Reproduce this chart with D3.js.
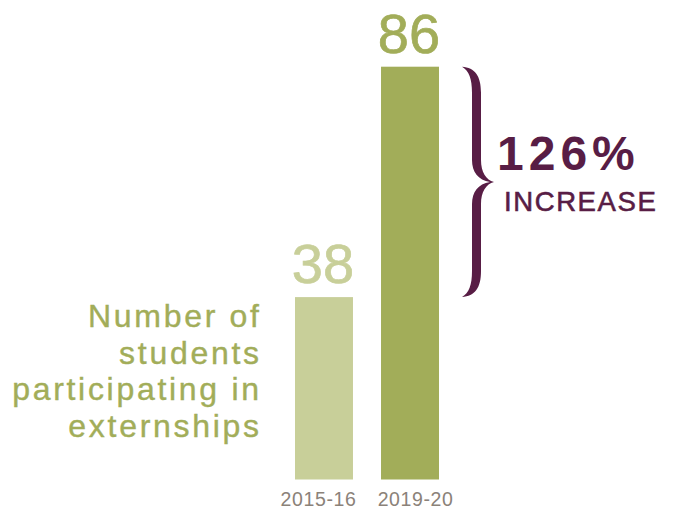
<!DOCTYPE html>
<html>
<head>
<meta charset="utf-8">
<script src="https://cdn.jsdelivr.net/npm/d3@7"></script>
<style>
  body { margin: 0; background: #fff; }
  svg { display: block; font-family: "Liberation Sans", Arial, sans-serif; }
</style>
</head>
<body>
<div id="chart"></div>
<script>
// data
const years = ["2015-16", "2019-20"];
const students = [38, 86];
const barColours = ["#c8cf99", "#a2ad59"];
const caption = ["Number of", "students", "participating in", "externships"];

const width = 678, height = 513;
const baseline = 479.5;
const pxPerUnit = 4.8;
const purple = "#581d45";

const svg = d3.select("#chart").append("svg")
    .attr("width", width)
    .attr("height", height);

const x = d3.scaleBand()
    .domain(years)
    .range([295, 439])
    .paddingInner(0.326)
    .paddingOuter(0);

const y = d3.scaleLinear()
    .domain([0, 100])
    .range([baseline, baseline - 100 * pxPerUnit]);

const bars = years.map((yr, i) => ({ year: yr, value: students[i], colour: barColours[i] }));

// Bars
svg.selectAll(".bar")
    .data(bars)
    .join("rect")
    .attr("class", "bar")
    .attr("x", d => x(d.year))
    .attr("y", d => y(d.value))
    .attr("width", x.bandwidth())
    .attr("height", d => y(0) - y(d.value))
    .attr("fill", d => d.colour);

// Value labels
svg.selectAll(".value")
    .data(bars)
    .join("text")
    .attr("class", "value")
    .attr("x", d => x(d.year) + x.bandwidth() / 2 - 1)
    .attr("y", d => y(d.value) - 14)
    .attr("text-anchor", "middle")
    .attr("font-size", "56px")
    .attr("fill", d => d.colour)
    .attr("stroke", d => d.colour)
    .attr("stroke-width", 0.7)
    .text(d => d.value);

// Year axis (no line, no ticks), labels pushed slightly apart
const axis = svg.append("g")
    .attr("transform", `translate(0, ${baseline})`)
    .call(d3.axisBottom(x).tickSize(0).tickPadding(13));
axis.select(".domain").remove();
axis.selectAll(".tick text")
    .attr("x", (d, i) => (i - 0.5) * 11)
    .attr("font-family", "'Liberation Sans', Arial, sans-serif")
    .attr("font-size", "19.5px")
    .attr("letter-spacing", "0.6px")
    .attr("fill", "#8b8279");

// Caption on the left
const capSpacing = 2.7;
svg.append("text")
    .attr("text-anchor", "end")
    .attr("font-size", "32px")
    .attr("letter-spacing", capSpacing + "px")
    .attr("fill", "#a2ad59")
    .attr("stroke", "#a2ad59")
    .attr("stroke-width", 0.4)
    .selectAll("tspan")
    .data(caption)
    .join("tspan")
    .attr("x", 259 + capSpacing)
    .attr("y", (d, i) => 327 + i * 36.7)
    .text(d => d);

// Brace from top of bar 2 down to top of bar 1
const yTop = y(students[1]), yBot = y(students[0]);
const yMid = (yTop + yBot) / 2;
const bx = 462, o = 481, inr = 472, tip = 494;
const brace = d3.path();
brace.moveTo(bx, yTop);
brace.bezierCurveTo(bx + 13, yTop + 1, o, yTop + 9, o, yTop + 26);
brace.lineTo(o, yMid - 22);
brace.bezierCurveTo(o, yMid - 10, o + 5, yMid - 2, tip, yMid);
brace.bezierCurveTo(o + 5, yMid + 2, o, yMid + 10, o, yMid + 22);
brace.lineTo(o, yBot - 26);
brace.bezierCurveTo(o, yBot - 9, bx + 13, yBot - 1, bx, yBot);
brace.bezierCurveTo(bx + 7, yBot - 4, inr, yBot - 12, inr, yBot - 26);
brace.lineTo(inr, yMid + 22);
brace.bezierCurveTo(inr, yMid + 10, inr + 6, yMid + 2, tip - 4, yMid);
brace.bezierCurveTo(inr + 6, yMid - 2, inr, yMid - 10, inr, yMid - 22);
brace.lineTo(inr, yTop + 26);
brace.bezierCurveTo(inr, yTop + 12, bx + 7, yTop + 4, bx, yTop);
brace.closePath();

svg.append("path")
    .attr("d", brace.toString())
    .attr("fill", purple);

// Increase annotation
const pct = Math.round((students[1] - students[0]) / students[0] * 100);
svg.append("text")
    .attr("x", 497)
    .attr("y", 170)
    .attr("font-size", "48px")
    .attr("font-weight", "bold")
    .attr("letter-spacing", "5px")
    .attr("fill", purple)
    .text(pct + "%");

svg.append("text")
    .attr("x", 504)
    .attr("y", 211)
    .attr("font-size", "27.5px")
    .attr("letter-spacing", "1.6px")
    .attr("fill", purple)
    .attr("stroke", purple)
    .attr("stroke-width", 0.6)
    .text("INCREASE");
</script>
</body>
</html>
